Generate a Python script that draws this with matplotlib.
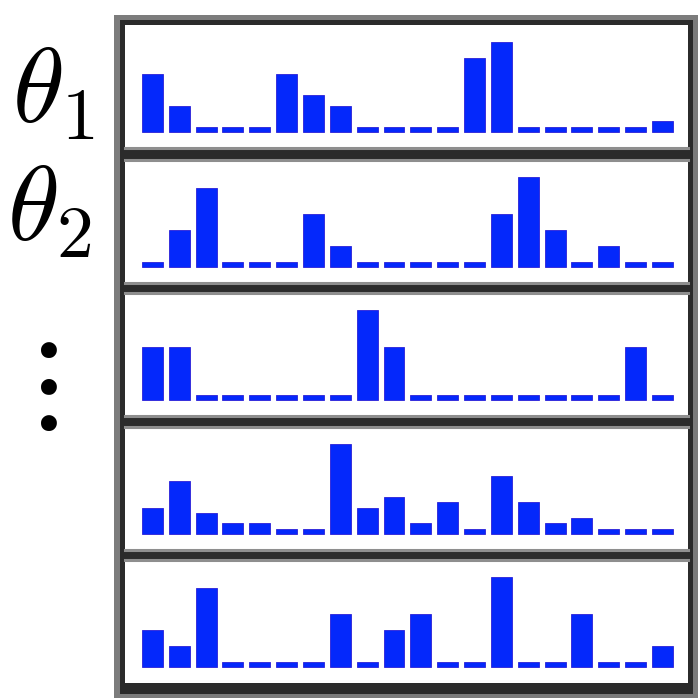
import matplotlib
matplotlib.use("Agg")
import matplotlib.pyplot as plt
from matplotlib.patches import Rectangle
import numpy as np

plt.rcParams["mathtext.fontset"] = "cm"

# Per-topic word counts over a 20-word vocabulary (1 = pseudocount)
vocab_index = list(range(20))
topic_1 = [11, 5, 1, 1, 1, 11, 7, 5, 1, 1, 1, 1, 14, 17, 1, 1, 1, 1, 1, 2]
topic_2 = [1, 7, 15, 1, 1, 1, 10, 4, 1, 1, 1, 1, 1, 10, 17, 7, 1, 4, 1, 1]
topic_3 = [10, 10, 1, 1, 1, 1, 1, 1, 17, 10, 1, 1, 1, 1, 1, 1, 1, 1, 10, 1]
topic_4 = [5, 10, 4, 2, 2, 1, 1, 17, 5, 7, 2, 6, 1, 11, 6, 2, 3, 1, 1, 1]
topic_5 = [7, 4, 15, 1, 1, 1, 1, 10, 1, 7, 10, 1, 1, 17, 1, 1, 10, 1, 1, 4]
topics = [topic_1, topic_2, topic_3, topic_4, topic_5]
row_labels = [r"$\theta_1$", r"$\theta_2$"]

W, H = 698, 699
fig = plt.figure(figsize=(W / 100, H / 100), dpi=100)
fig.patch.set_facecolor("white")


def fx(px):
    return px / W


def fy(py):
    return 1 - py / H


# bevelled frame: grey outer rim, dark inner rim (behind the panels)
fig.patches.append(Rectangle((fx(114), fy(698)), fx(698) - fx(114), fy(15) - fy(698),
                             transform=fig.transFigure, facecolor="#7c7c7c",
                             edgecolor="none", zorder=-20))
fig.patches.append(Rectangle((fx(120), fy(694)), fx(693) - fx(120), fy(20) - fy(694),
                             transform=fig.transFigure, facecolor="#2b2b2b",
                             edgecolor="none", zorder=-10))

panel_tops = [25, 160, 293, 427, 560]
panel_h = 123
left, right = 124.5, 687.5

for k, (top, counts) in enumerate(zip(panel_tops, topics)):
    ax = fig.add_axes([fx(left), fy(top + panel_h), fx(right) - fx(left),
                       fy(top) - fy(top + panel_h)])
    ax.set_zorder(1)
    ax.set_facecolor("white")
    ax.bar(vocab_index, counts, width=0.78, color="#0428fb",
           edgecolor="#2a20d8", linewidth=0.6)
    ax.set_xlim(-1.04, 19.935)
    ax.set_ylim(-3.0, 20.2)
    ax.set_xticks([])
    ax.set_yticks([])
    for side in ["left", "right"]:
        ax.spines[side].set_visible(False)
    ax.spines["top"].set_visible(k > 0)
    ax.spines["bottom"].set_visible(k < len(topics) - 1)
    ax.spines["top"].set_color("#8e8e8e")
    ax.spines["bottom"].set_color("#8e8e8e")
    ax.spines["top"].set_linewidth(2.2)
    ax.spines["bottom"].set_linewidth(2.2)

fig.text(fx(12), fy(122), row_labels[0], fontsize=76, ha="left", va="baseline")
fig.text(fx(7), fy(240), row_labels[1], fontsize=76, ha="left", va="baseline")
fig.text(fx(37), fy(383), r"$\vdots$", fontsize=90, ha="center", va="center")

fig.savefig("out.png", dpi=100)
